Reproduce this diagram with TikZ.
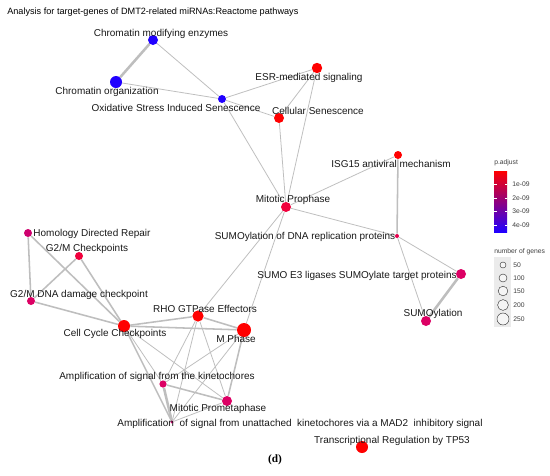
\documentclass[tikz,border=0pt]{standalone}
\usepackage{fontspec}
\setmainfont{Liberation Sans}
\newfontfamily\capfont{Liberation Serif}
\usepackage{tikz}
\usetikzlibrary{positioning}
\definecolor{edgegray}{HTML}{BEBEBE}
\definecolor{pred}{HTML}{FF0000}
\definecolor{pblue}{HTML}{2000FF}
\definecolor{pmid}{HTML}{C8009C}
\definecolor{prose}{HTML}{F0003C}
\definecolor{pcrim}{HTML}{E6004E}
\definecolor{pmag}{HTML}{DC0064}
\definecolor{pplum}{HTML}{CE006E}
\definecolor{keybg}{HTML}{EBEBEB}
\pgfdeclarelayer{paper}
\pgfdeclarelayer{edges}
\pgfsetlayers{paper,edges,main}
\tikzset{
  term/.style={circle,inner sep=0pt,draw=none},
  lbl/.style={font=\fontsize{7.1}{8}\selectfont,inner sep=0pt,text=black!90},
  keytxt/.style={font=\fontsize{4.8}{5.5}\selectfont,inner sep=0pt,
                 anchor=west,text=black!75},
  link/.style={draw=edgegray,line width=0.55pt},
  midlink/.style={draw=edgegray,line width=1.1pt},
  fatlink/.style={draw=edgegray,line width=1.8pt},
  sizekey/.style={circle,draw=black!80,fill=keybg!50,line width=0.3pt,
                  inner sep=0pt}
}
\begin{document}
\begin{tikzpicture}[x=0.025cm,y=-0.025cm]
  \begin{pgfonlayer}{paper}
    \path[use as bounding box,fill=white] (0,0) rectangle (550,475);
  \end{pgfonlayer}
  \node[anchor=west,inner sep=0pt,font=\fontsize{6.5}{7.5}\selectfont] (title) at (7,12)
    {Analysis for target-genes of DMT2-related miRNAs:Reactome pathways};
  % pathway terms
  \node[term,fill=pblue,minimum size=0.25cm] (cme) at (153,40) {};
  \node[term,fill=pblue,minimum size=0.3cm] (corg) at (116,82) {};
  \node[term,fill=pblue,minimum size=0.2cm] (oxi) at (222,99) {};
  \node[term,fill=pred,minimum size=0.26cm] (esr) at (317,68) {};
  \node[term,fill=pred,minimum size=0.25cm] (cell) at (279,118) {};
  \node[term,fill=pred,minimum size=0.2cm] (isg) at (398,155) {};
  \node[term,fill=prose,minimum size=0.25cm] (mpro) at (286,207) {};
  \node[term,fill=pcrim,minimum size=0.1cm] (sdna) at (397,236) {};
  \node[term,fill=pmag,minimum size=0.25cm] (se3) at (461,274) {};
  \node[term,fill=pmag,minimum size=0.25cm] (sumo) at (426,321) {};
  \node[term,fill=pplum,minimum size=0.2cm] (hdr) at (28,233) {};
  \node[term,fill=prose,minimum size=0.2cm] (g2mc) at (79,256) {};
  \node[term,fill=pmag,minimum size=0.2cm] (g2md) at (31,301) {};
  \node[term,fill=pred,minimum size=0.3cm] (ccc) at (124,326) {};
  \node[term,fill=pred,minimum size=0.28cm] (rho) at (198,316) {};
  \node[term,fill=pred,minimum size=0.35cm] (mph) at (244,330) {};
  \node[term,fill=pmag,minimum size=0.18cm] (ampk) at (163,384) {};
  \node[term,fill=pmag,minimum size=0.25cm] (mpm) at (227,401) {};
  \node[term,fill=pplum,minimum size=0.08cm] (ampu) at (172,422) {};
  \node[term,fill=pred,minimum size=0.3cm] (tp53) at (362,447) {};
  % term labels
  \node[lbl] (cme-t) at (161,34) {Chromatin modifying enzymes};
  \node[lbl] (corg-t) at (107,92) {Chromatin organization};
  \node[lbl] (oxi-t) at (176,108) {Oxidative Stress Induced Senescence};
  \node[lbl] (esr-t) at (309,78) {ESR-mediated signaling};
  \node[lbl] (cell-t) at (318,111) {Cellular Senescence};
  \node[lbl] (isg-t) at (391,164) {ISG15 antiviral mechanism};
  \node[lbl] (mpro-t) at (293,200) {Mitotic Prophase};
  \node[lbl] (sdna-t) at (305,237) {SUMOylation of DNA replication proteins};
  \node[lbl] (se3-t) at (357,276) {SUMO E3 ligases SUMOylate target proteins};
  \node[lbl] (sumo-t) at (433,314) {SUMOylation};
  \node[lbl] (hdr-t) at (92,234) {Homology Directed Repair};
  \node[lbl] (g2mc-t) at (87,249) {G2/M Checkpoints};
  \node[lbl] (g2md-t) at (79,295) {G2/M DNA damage checkpoint};
  \node[lbl] (ccc-t) at (115,334) {Cell Cycle Checkpoints};
  \node[lbl] (rho-t) at (205,309) {RHO GTPase Effectors};
  \node[lbl] (mph-t) at (236,339) {M Phase};
  \node[lbl] (ampk-t) at (157,377) {Amplification of signal from the kinetochores};
  \node[lbl] (mpm-t) at (218,409) {Mitotic Prometaphase};
  \node[lbl] (ampu-t) at (300,424)
    {Amplification\ \ of signal from unattached\ \ kinetochores via a MAD2\ \ inhibitory signal};
  \node[lbl] (tp53-t) at (392,441) {Transcriptional Regulation by TP53};
  \node[font=\capfont\bfseries\fontsize{8}{9}\selectfont,inner sep=0pt] (cap) at (275,460) {(d)};
  % links between terms
  \begin{pgfonlayer}{edges}
    \foreach \a/\b in {cme/oxi,corg/oxi,oxi/esr,oxi/cell,oxi/mpro,esr/cell,
                       esr/mpro,cell/mpro,isg/mpro,mpro/sdna,mpro/rho,mpro/mph,
                       sdna/se3,sdna/sumo,ccc/ampk,ccc/mpm,rho/ampk,rho/ampu,
                       rho/mpm,mph/ampk,mph/ampu,mpm/ampu}
      \draw[link] (\a) -- (\b);
    \foreach \a/\b in {isg/sdna,hdr/g2md,hdr/ccc,g2mc/g2md,g2mc/ccc,g2md/ccc,
                       ccc/rho,ccc/mph,ccc/ampu,rho/mph,mph/mpm,ampk/mpm}
      \draw[midlink] (\a) -- (\b);
    \foreach \a/\b in {cme/corg,se3/sumo,ampk/ampu}
      \draw[fatlink] (\a) -- (\b);
  \end{pgfonlayer}
  % p.adjust key
  \node[keytxt] (pkey) at (494,163) {p.adjust};
  \shade[top color=pred,middle color=pmid,bottom color=pblue] (494,171) rectangle (507,232);
  \foreach \y/\t in {184/1e-09,198/2e-09,211/3e-09,225/4e-09}{
    \draw[white,line width=0.4pt] (494,\y) -- ++(2.5,0) (507,\y) -- ++(-2.5,0);
    \node[keytxt] (pv\y) at (512,\y) {\t};
  }
  % gene count key
  \node[keytxt] (nkey) at (494,252) {number of genes};
  \fill[keybg] (494,257) rectangle (511,327);
  \foreach \y/\d/\n in {265/0.15/50,278/0.2/100,291/0.24/150,305/0.27/200,319/0.3/250}{
    \node[sizekey,minimum size=\d cm] (ng\n) at (503,\y) {};
    \node[keytxt] (ngt\n) at (513,\y) {\n};
  }
\end{tikzpicture}
\end{document}
